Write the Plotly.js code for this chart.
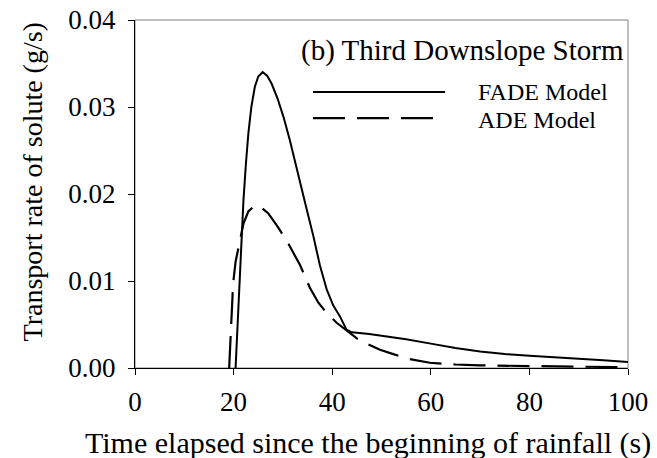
<!DOCTYPE html>
<html>
<head>
<meta charset="utf-8">
<script src="https://cdn.plot.ly/plotly-3.0.1.min.js"></script>
<style>html,body{margin:0;padding:0;background:#fff;}#chart{width:657px;height:458px;}</style>
</head>
<body>
<div id="chart"></div>
<script>
// FADE model
const fadeT = [20.4, 20.8, 21.2, 21.6, 22.0, 22.5, 23.0, 23.6, 24.3, 25.0, 25.9, 26.8, 27.7, 28.9, 30.1, 31.4, 32.8, 34.5, 36.2, 37.5, 38.9, 40.2, 41.6, 42.9, 44.0, 45.0, 47.5, 50, 55, 60, 65, 70, 75, 80, 85, 90, 95, 100];
const fadeY = [0.0, 0.005, 0.0097, 0.0148, 0.0193, 0.0235, 0.027, 0.0300, 0.0323, 0.0335, 0.0340, 0.0336, 0.0327, 0.0310, 0.0289, 0.0262, 0.0231, 0.0190, 0.0151, 0.0118, 0.0090, 0.0072, 0.0059, 0.0044, 0.0041, 0.00405, 0.0039, 0.0037, 0.0033, 0.0028, 0.0023, 0.0019, 0.0016, 0.0014, 0.00125, 0.0011, 0.0009, 0.0007];
// ADE model
const adeT = [19.1, 19.5, 19.9, 20.4, 21.0, 22.0, 23.0, 24.3, 25.5, 27.0, 29.0, 31.1, 33.5, 35.5, 37.2, 38.9, 40.9, 42.9, 45.0, 47.0, 49.7, 52.4, 55, 59.8, 65, 70, 80, 90, 100];
const adeY = [0.0, 0.005, 0.0097, 0.0122, 0.0139, 0.0166, 0.0180, 0.0187, 0.0185, 0.0178, 0.0162, 0.0143, 0.0118, 0.0092, 0.0075, 0.0063, 0.0052, 0.0043, 0.0034, 0.0028, 0.0021, 0.0016, 0.0011, 0.0006, 0.0004, 0.0003, 0.0002, 0.00015, 0.0001];

const seriesNames = ["FADE Model", "ADE Model"];
const panelTitle = "(b) Third Downslope Storm";
const xTicks = [0, 20, 40, 60, 80, 100];
const yTicks = [0, 0.01, 0.02, 0.03, 0.04];
const xTitle = "Time elapsed since the beginning of rainfall (s)";
const yTitle = "Transport rate of solute (g/s)";

const font = "Liberation Serif, Times New Roman, serif";
const dashPat = "32px,12px";

const traces = [
  {x: fadeT, y: fadeY, mode: "lines", name: seriesNames[0], line: {color: "#000", width: 2}},
  {x: adeT, y: adeY, mode: "lines", name: seriesNames[1], line: {color: "#000", width: 2.2, dash: dashPat}}
];

const layout = {
  width: 657, height: 458,
  margin: {l: 135, r: 29, t: 20, b: 90},
  paper_bgcolor: "#fff", plot_bgcolor: "#fff",
  showlegend: false,
  font: {family: font, color: "#000", size: 27},
  xaxis: {
    range: [0, 100], tickvals: xTicks, ticktext: xTicks.map(String),
    showgrid: false, zeroline: false, showline: true, linecolor: "#000", linewidth: 1,
    ticks: "outside", ticklen: 6, tickcolor: "#000", tickwidth: 1,
    tickfont: {family: font, size: 27}, ticklabelstandoff: 4
  },
  yaxis: {
    range: [0, 0.04], tickvals: yTicks, ticktext: yTicks.map(v => v.toFixed(2)),
    showgrid: false, zeroline: false, showline: true, linecolor: "#000", linewidth: 1,
    ticks: "outside", ticklen: 6, tickcolor: "#000", tickwidth: 1,
    tickfont: {family: font, size: 27}, ticklabelstandoff: 7
  },
  shapes: [
    {type: "rect", xref: "paper", yref: "paper", x0: 0, x1: 1, y0: 0, y1: 1, line: {color: "#808080", width: 1}, layer: "below"},
    {type: "line", xref: "paper", yref: "paper", x0: 0.361, x1: 0.629, y0: 0.7931, y1: 0.7931, line: {color: "#000", width: 2}},
    {type: "line", xref: "paper", yref: "paper", x0: 0.361, x1: 0.6045, y0: 0.718, y1: 0.718, line: {color: "#000", width: 2.2, dash: dashPat}}
  ],
  annotations: [
    {xref: "paper", yref: "paper", x: 0.996, y: 0.911, xanchor: "right", yanchor: "middle", text: panelTitle, showarrow: false, font: {family: font, size: 29}},
    {xref: "paper", yref: "paper", x: 0.692, y: 0.793, xanchor: "left", yanchor: "middle", text: seriesNames[0], showarrow: false, font: {family: font, size: 24}},
    {xref: "paper", yref: "paper", x: 0.692, y: 0.7126, xanchor: "left", yanchor: "middle", text: seriesNames[1], showarrow: false, font: {family: font, size: 24}},
    {xref: "paper", yref: "paper", x: 0.4726, y: -0.2155, xanchor: "center", yanchor: "middle", text: xTitle, showarrow: false, font: {family: font, size: 30}},
    {xref: "paper", yref: "paper", x: -0.207, y: 0.536, xanchor: "center", yanchor: "middle", textangle: -90, text: yTitle, showarrow: false, font: {family: font, size: 28}}
  ]
};

Plotly.newPlot("chart", traces, layout, {staticPlot: true, displayModeBar: false});
</script>
</body>
</html>
